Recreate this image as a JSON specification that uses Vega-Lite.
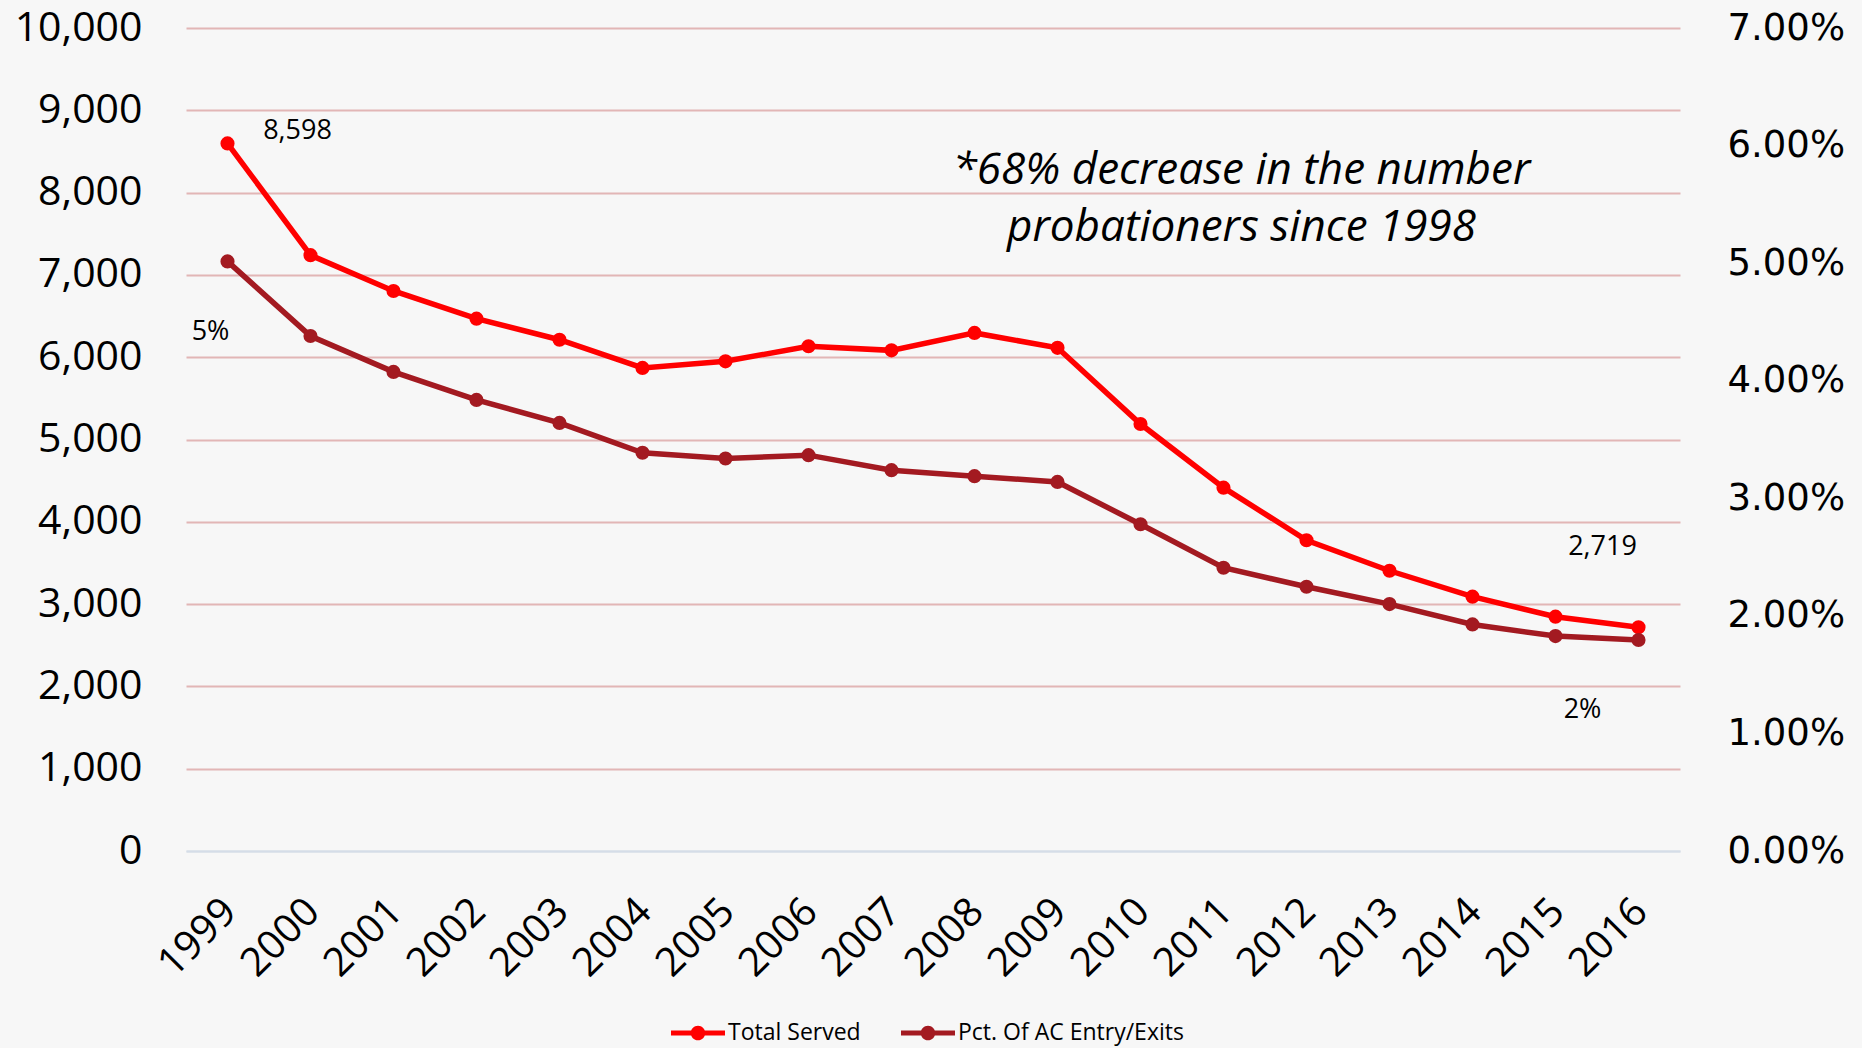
{
  "$schema": "https://vega.github.io/schema/vega-lite/v6.json",
  "width": 1494,
  "height": 823,
  "autosize": "none",
  "padding": {"left": 186, "top": 28, "right": 182, "bottom": 197},
  "background": "#f7f7f7",
  "config": {"view": {"stroke": null}},
  "data": {
    "values": [
      {"year": "1999", "served": 8598, "pct": 0.05015},
      {"year": "2000", "served": 7240, "pct": 0.0438},
      {"year": "2001", "served": 6805, "pct": 0.04075},
      {"year": "2002", "served": 6468, "pct": 0.03837},
      {"year": "2003", "served": 6212, "pct": 0.03641},
      {"year": "2004", "served": 5870, "pct": 0.03387},
      {"year": "2005", "served": 5950, "pct": 0.03338},
      {"year": "2006", "served": 6133, "pct": 0.03367},
      {"year": "2007", "served": 6083, "pct": 0.03239},
      {"year": "2008", "served": 6295, "pct": 0.03188},
      {"year": "2009", "served": 6114, "pct": 0.03139},
      {"year": "2010", "served": 5188, "pct": 0.02779},
      {"year": "2011", "served": 4415, "pct": 0.02409},
      {"year": "2012", "served": 3776, "pct": 0.02248},
      {"year": "2013", "served": 3405, "pct": 0.021},
      {"year": "2014", "served": 3090, "pct": 0.01927},
      {"year": "2015", "served": 2847, "pct": 0.01828},
      {"year": "2016", "served": 2719, "pct": 0.01795}
    ]
  },
  "encoding": {
    "x": {
      "field": "year",
      "type": "ordinal",
      "title": null,
      "axis": {
        "labelAngle": -45,
        "labelFont": "Open Sans",
        "labelFontSize": 40,
        "labelColor": "#000000",
        "labelPadding": 40,
        "labelOffset": -12,
        "ticks": false,
        "domainColor": "#d5dde8",
        "domainWidth": 2,
        "grid": false
      }
    }
  },
  "layer": [
    {
      "encoding": {
        "y": {
          "field": "served",
          "type": "quantitative",
          "scale": {"domain": [0, 10000], "nice": false},
          "title": null,
          "axis": {
            "orient": "left",
            "values": [0, 1000, 2000, 3000, 4000, 5000, 6000, 7000, 8000, 9000, 10000],
            "format": ",d",
            "labelFont": "Open Sans",
            "labelFontSize": 41,
            "labelColor": "#000000",
            "labelPadding": 44,
            "ticks": false,
            "domain": false,
            "grid": true,
            "gridColor": {"condition": {"test": "datum.value === 0", "value": "#d5dde8"}, "value": "#e2b6b6"},
            "gridWidth": 2
          }
        }
      },
      "layer": [
        {
          "mark": {"type": "line", "strokeWidth": 5.5, "point": {"filled": true, "size": 200}},
          "encoding": {
            "color": {
              "datum": "Total Served",
              "scale": {"domain": ["Total Served", "Pct. Of AC Entry/Exits"], "range": ["#ff0000", "#a31a21"]},
              "legend": {
                "orient": "none",
                "legendX": 485,
                "legendY": 978,
                "direction": "horizontal",
                "title": null,
                "padding": 0,
                "symbolType": "M-1,-0.09L1,-0.09L1,0.09L-1,0.09Z M-0.27,0A0.27,0.27 0 1,1 0.27,0A0.27,0.27 0 1,1 -0.27,0Z",
                "symbolSize": 2916,
                "symbolStrokeWidth": 0,
                "labelFont": "Open Sans",
                "labelFontSize": 23,
                "labelLimit": 500,
                "labelColor": "#000000",
                "labelOffset": 3,
                "columnPadding": 40,
                "encode": {"symbols": {"update": {"fill": {"scale": "color", "field": "value"}, "fillOpacity": {"value": 1}, "strokeWidth": {"value": 0}}}}
              }
            }
          }
        },
        {
          "transform": [{"filter": "datum.year === '1999'"}],
          "mark": {"type": "text", "font": "Open Sans", "fontSize": 27, "color": "#000000", "dx": 70, "dy": -12, "baseline": "middle"},
          "encoding": {"text": {"field": "served", "type": "quantitative", "format": ","}}
        },
        {
          "transform": [{"filter": "datum.year === '2016'"}],
          "mark": {"type": "text", "font": "Open Sans", "fontSize": 27, "color": "#000000", "dx": -36, "dy": -80, "baseline": "middle"},
          "encoding": {"text": {"field": "served", "type": "quantitative", "format": ","}}
        },
        {
          "transform": [{"filter": "datum.year === '2011'"}],
          "mark": {
            "type": "text",
            "font": "Open Sans",
            "fontStyle": "italic",
            "fontSize": 44,
            "color": "#000000",
            "dx": 18,
            "baseline": "middle",
            "lineHeight": 57,
            "text": ["*68% decrease in the number", "probationers since 1998"]
          },
          "encoding": {"y": {"datum": 8260, "type": "quantitative"}}
        }
      ]
    },
    {
      "encoding": {
        "y": {
          "field": "pct",
          "type": "quantitative",
          "scale": {"domain": [0, 0.07], "nice": false},
          "title": null,
          "axis": {
            "orient": "right",
            "values": [0, 0.01, 0.02, 0.03, 0.04, 0.05, 0.06, 0.07],
            "format": ".2%",
            "labelFont": "DejaVu Sans",
            "labelFontSize": 37,
            "labelColor": "#000000",
            "labelPadding": 47,
            "ticks": false,
            "domain": false,
            "grid": false
          }
        }
      },
      "layer": [
        {
          "mark": {"type": "line", "strokeWidth": 5.5, "point": {"filled": true, "size": 200}},
          "encoding": {"color": {"datum": "Pct. Of AC Entry/Exits"}}
        },
        {
          "transform": [{"filter": "datum.year === '1999'"}],
          "mark": {"type": "text", "font": "Open Sans", "fontSize": 27, "color": "#000000", "dx": -17, "dy": 71, "baseline": "middle"},
          "encoding": {"text": {"field": "pct", "type": "quantitative", "format": ".0%"}}
        },
        {
          "transform": [{"filter": "datum.year === '2016'"}],
          "mark": {"type": "text", "font": "Open Sans", "fontSize": 27, "color": "#000000", "dx": -56, "dy": 70, "baseline": "middle"},
          "encoding": {"text": {"field": "pct", "type": "quantitative", "format": ".0%"}}
        }
      ]
    }
  ],
  "resolve": {"scale": {"y": "independent"}}
}
